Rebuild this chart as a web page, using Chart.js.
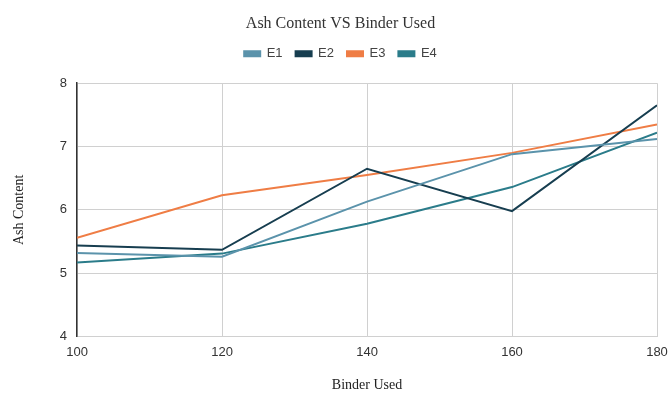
<!DOCTYPE html>
<html lang="en">
<head>
    <meta charset="UTF-8">
    <title>Ash Content VS Binder Used</title>
    <script src="https://cdn.jsdelivr.net/npm/chart.js"></script>
    <style>
        html, body { margin: 0; padding: 0; background: #fff; }
        #wrap { width: 670px; height: 394px; }
    </style>
</head>
<body>
    <div id="wrap"><canvas id="ashChart"></canvas></div>

    <script>
        // Data
        const binderUsed = [100, 120, 140, 160, 180];
        const e1 = [5.32, 5.26, 6.13, 6.88, 7.12];
        const e2 = [5.44, 5.37, 6.65, 5.98, 7.65];
        const e3 = [5.56, 6.23, 6.55, 6.90, 7.35];
        const e4 = [5.17, 5.31, 5.78, 6.36, 7.22];
        const seriesNames = ['E1', 'E2', 'E3', 'E4'];
        const seriesColors = ['#5b93ab', '#173e50', '#ef7d45', '#2b7c8a'];

        const toPoints = arr => arr.map((v, i) => ({ x: binderUsed[i], y: v }));

        const serif = "'Liberation Serif', 'Times New Roman', serif";
        const sans = "'Liberation Sans', Arial, sans-serif";

        // extra room between legend and plot
        const legendSpacer = {
            id: 'legendSpacer',
            beforeInit(chart) {
                const origFit = chart.legend.fit;
                chart.legend.fit = function () {
                    origFit.bind(chart.legend)();
                    this.height += 13;
                };
            }
        };

        const ctx = document.getElementById('ashChart').getContext('2d');
        new Chart(ctx, {
            type: 'line',
            data: {
                datasets: [e1, e2, e3, e4].map((vals, i) => ({
                    label: seriesNames[i],
                    data: toPoints(vals),
                    borderColor: seriesColors[i],
                    backgroundColor: seriesColors[i],
                    borderWidth: 2,
                    pointRadius: 0,
                    tension: 0
                }))
            },
            plugins: [legendSpacer],
            options: {
                responsive: true,
                maintainAspectRatio: false,
                animation: false,
                layout: { padding: { left: 11, right: 0, top: 8, bottom: 0 } },
                plugins: {
                    title: {
                        display: true,
                        text: 'Ash Content VS Binder Used',
                        font: { family: serif, size: 16, weight: 'normal' },
                        color: '#333',
                        padding: { top: 6, bottom: 1 }
                    },
                    legend: {
                        position: 'top',
                        labels: {
                            font: { family: sans, size: 13 },
                            color: '#444',
                            boxWidth: 16,
                            boxHeight: 5,
                            padding: 13
                        }
                    },
                    tooltip: { enabled: false }
                },
                scales: {
                    x: {
                        type: 'linear',
                        min: 100,
                        max: 180,
                        afterFit(scale) {
                            // let the last tick label sit close to the edge
                            scale.paddingRight = 13;
                        },
                        ticks: {
                            stepSize: 20,
                            font: { family: sans, size: 13 },
                            color: '#333',
                            padding: 8
                        },
                        grid: { color: '#d0d0d0', drawTicks: false },
                        border: { color: '#d0d0d0' },
                        title: {
                            display: true,
                            text: 'Binder Used',
                            font: { family: serif, size: 14 },
                            color: '#222',
                            padding: { top: 9, bottom: 0 }
                        }
                    },
                    y: {
                        min: 4,
                        max: 8,
                        ticks: {
                            stepSize: 1,
                            font: { family: sans, size: 13 },
                            color: '#333',
                            padding: 10
                        },
                        grid: { color: '#d0d0d0', drawTicks: false },
                        border: { color: '#333', width: 1.5 },
                        title: {
                            display: true,
                            text: 'Ash Content',
                            font: { family: serif, size: 14 },
                            color: '#222',
                            padding: { top: 0, bottom: 22 }
                        }
                    }
                }
            }
        });
    </script>
</body>
</html>
